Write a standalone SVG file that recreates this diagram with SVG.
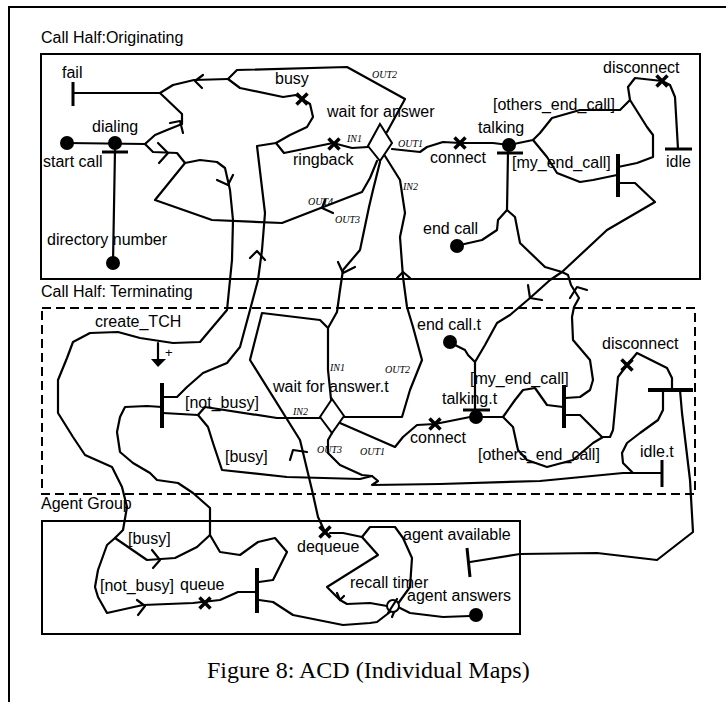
<svg xmlns="http://www.w3.org/2000/svg" xmlns:xlink="http://www.w3.org/1999/xlink" width="726" height="702" viewBox="0 0 726 702">
<style>
.p{fill:none;stroke:#000;stroke-width:2.2;stroke-linejoin:round;stroke-linecap:round}
.bar{stroke:#000;stroke-width:4;fill:none}
.eb{stroke:#000;stroke-width:3;fill:none}
.x{stroke:#000;stroke-width:3.5;fill:none}
.dot{fill:#000}
.box{fill:none;stroke:#000;stroke-width:2}
.dash{fill:none;stroke:#000;stroke-width:2;stroke-dasharray:9,5}
.t{font-family:"Liberation Sans",Arial,sans-serif;font-size:16px;fill:#000}
.s{font-family:"Liberation Serif","Times New Roman",serif;font-style:italic;font-size:10px;fill:#000}
.cap{font-family:"Liberation Serif","Times New Roman",serif;font-size:24px;fill:#000}
</style>
<defs>
<path id="xm" d="M-5.5,-5.5 L5.5,5.5 M5.5,-5.5 L-5.5,5.5"/>
</defs>
<rect width="726" height="702" fill="#fff"/>
<path class="box" d="M9,702 L9,7 L726,7"/>

<g id="components">
<rect class="box" x="41" y="54" width="659" height="225"/>
<rect class="dash" x="42" y="308" width="653" height="186"/>
<rect class="box" x="42" y="521" width="478" height="113"/>
<text class="t" x="41" y="43">Call Half:Originating</text>
<text class="t" x="41" y="297">Call Half: Terminating</text>
<text class="t" x="41" y="509">Agent Group</text>
</g>

<g id="connectors">
<!-- originating -->
<path class="p" d="M67,143 L145,144"/>
<path class="p" d="M115,150 L113,263"/>
<path class="p" d="M145,144 L155,135 L167,130 L182,124 L182,114 L160,93 L73,93"/>
<path class="p" d="M160,93 L173,85 L194,80 L228,79"/>
<path class="p" d="M228,79 L237,70 L347,67 L405,99 L387,132"/>
<path class="p" d="M228,79 L240,88 L283,97 L296,95 L302,99 L310,104 L313,117 L307,127 L290,135 L276,143"/>
<path class="p" d="M276,143 L284,153 L333,143 L352,148 L368,147"/>
<path class="p" d="M276,143 L257,146 L265,213 L262,250 L258,280 L250,310 L240,347 L227,363 L203,373 L187,387 L177,397 L163,397"/>
<path class="p" d="M145,144 L153,152 L177,153 L185,163 L200,160 L217,162 L225,168 L230,190 L233,220 L232,260 L230,280 L227,310 L200,342 L173,343 L140,338 L118,332 L90,333 L73,342 L67,358 L58,380 L58,413 L73,437 L85,455 L112,467 L122,487 L127,507 L123,530 L115,538 L107,545 L98,570 L95,587 L98,597 L107,613 L143,605 L193,603 L220,600 L238,592 L255,592"/>
<path class="p" d="M377,161 L370,178 L362,192 L282,223 L212,220 L155,200 L185,163"/>
<path class="p" d="M380,162 L373,190 L369,207 L360,250 L343,270 L340,290 L337,312 L328,328 L328,370 L331,399"/>
<path class="p" d="M385,156 L400,180 L405,213 L400,237 L403,277 L407,307 L413,327 L422,360 L410,390 L402,417 L343,417"/>
<path class="p" d="M392,149 L420,152 L427,147 L443,142 L460,143 L493,143 L509,145"/>
<path class="p" d="M509,145 L533,140 L540,133 L552,118 L580,110 L620,110 L630,100 L628,87 L635,78 L662,81 L670,85 L675,97 L678,149"/>
<path class="p" d="M630,100 L647,127 L653,135 L653,157 L637,163 L618,167"/>
<path class="p" d="M533,140 L547,157 L557,173 L580,182 L593,180 L617,175"/>
<path class="p" d="M618,183 L635,183 L655,202 L607,230 L562,272 L550,280 L530,298 L510,315 L497,323 L485,345 L475,362"/>
<path class="p" d="M508,152 L507,210 L498,220 L497,230 L482,240 L460,245"/>
<path class="p" d="M507,210 L515,217 L520,243 L545,267 L562,272 L568,275 L571,285 L579,298 L574,307 L572,317 L573,340 L590,360 L593,380 L590,390 L580,397 L565,398"/>
<!-- terminating -->
<path class="p" d="M455,345 L465,350 L468,355 L475,362 L475,410"/>
<path class="p" d="M340,423 L395,447 L403,437 L417,425 L435,424 L470,417"/>
<path class="p" d="M483,417 L503,417 L515,400 L523,390 L535,388 L547,405 L563,407"/>
<path class="p" d="M503,417 L513,427 L518,450 L527,460 L547,467 L573,460 L593,443 L603,437 L610,437 L613,430 L618,377 L627,365 L637,353 L667,368 L672,378 L672,390"/>
<path class="p" d="M565,415 L580,415 L602,437"/>
<path class="p" d="M663,390 L663,410 L658,420 L640,433 L627,443 L622,453 L623,463 L633,473 L662,473"/>
<path class="p" d="M680,390 L682,413 L690,480 L693,532 L657,560 L597,553 L520,554 L470,562"/>
<path class="p" d="M162,407 L147,406 L125,407 L120,417 L117,432 L120,452 L133,463 L150,473 L157,480 L178,483 L193,493 L210,508 L210,535"/>
<path class="p" d="M163,413 L198,415 L205,407 L277,418 L320,418"/>
<path class="p" d="M198,415 L208,427 L213,443 L222,470 L287,477 L360,479 L372,476 L378,481 L372,485 L440,484 L540,481 L623,473 L633,473"/>
<path class="p" d="M332,433 L328,440 L328,453 L340,465 L362,475 L372,476"/>
<path class="p" d="M325,532 L318,517 L312,490 L300,440 L250,360 L262,313 L320,320 L328,328"/>
<path class="p" d="M158,343 L158,360"/>
<!-- agent -->
<path class="p" d="M210,535 L197,547 L175,558 L147,560 L115,538"/>
<path class="p" d="M210,535 L220,552 L240,555 L258,542 L275,538 L287,552 L273,580 L259,582"/>
<path class="p" d="M259,600 L273,602 L293,615 L343,625 L370,623 L377,622 L390,612"/>
<path class="p" d="M330,533 L343,533 L362,537 L378,555 L327,587 L340,600 L347,604 L370,603 L387,606"/>
<path class="p" d="M362,537 L370,527 L395,527 L403,538 L412,558 L410,587 L397,605 L392,617"/>
<path class="p" d="M400,608 L410,613 L443,617 L470,616"/>
<!-- arrowheads -->
<path class="p" d="M203,75 L195,81 L202,88"/>
<path class="p" d="M170,123 L180,121 L183,133"/>
<path class="p" d="M158,143 L168,153 L159,163"/>
<path class="p" d="M217,180 L228,185 L233,175"/>
<path class="p" d="M250,258 L257,251 L265,260"/>
<path class="p" d="M325,200 L322,208 L333,213"/>
<path class="p" d="M338,262 L343,273 L355,267"/>
<path class="p" d="M397,278 L403,272 L410,278"/>
<path class="p" d="M528,285 L530,298 L542,300"/>
<path class="p" d="M570,298 L577,287 L587,290"/>
<path class="p" d="M290,460 L293,450 L307,452"/>
<path class="p" d="M152,550 L160,560 L153,568"/>
<path class="p" d="M137,600 L145,606 L138,615"/>
<path class="p" d="M337,593 L340,600 L344,596"/>
</g>

<g id="start-call"><circle class="dot" cx="67" cy="143" r="7"/><text class="t" x="43" y="167">start call</text></g>
<g id="dialing"><circle class="dot" cx="115" cy="143" r="7"/><path class="eb" d="M102,152 L128,152"/><text class="t" x="92" y="132">dialing</text></g>
<g id="directory-number"><circle class="dot" cx="113" cy="263" r="7"/><text class="t" x="47" y="245">directory number</text></g>
<g id="fail"><path class="eb" d="M73,82 L73,106"/><text class="t" x="62" y="78">fail</text></g>
<g id="busy"><use xlink:href="#xm" href="#xm" class="x" x="302" y="99"/><text class="t" x="275" y="84">busy</text></g>
<g id="ringback"><use xlink:href="#xm" href="#xm" class="x" x="334" y="144"/><text class="t" x="293" y="165">ringback</text></g>
<g id="wait-for-answer">
<path fill="#fff" stroke="#000" stroke-width="2" d="M380,124 L392,143 L380,161 L368,146 Z"/>
<text class="t" x="327" y="117">wait for answer</text>
<text class="s" x="347" y="142">IN1</text>
<text class="s" x="398" y="147">OUT1</text>
<text class="s" x="372" y="78">OUT2</text>
<text class="s" x="403" y="190">IN2</text>
<text class="s" x="308" y="205">OUT4</text>
<text class="s" x="335" y="223">OUT3</text>
</g>
<g id="connect"><use xlink:href="#xm" href="#xm" class="x" x="460" y="143"/><text class="t" x="430" y="163">connect</text></g>
<g id="talking"><circle class="dot" cx="509" cy="145" r="7"/><path class="eb" d="M497,153 L523,153"/><text class="t" x="478" y="133">talking</text></g>
<g id="others-end-call"><text class="t" x="493" y="110">[others_end_call]</text></g>
<g id="my-end-call"><path class="bar" d="M618,154 L618,197"/><text class="t" x="512" y="168">[my_end_call]</text></g>
<g id="disconnect"><use xlink:href="#xm" href="#xm" class="x" x="662" y="81"/><text class="t" x="603" y="73">disconnect</text></g>
<g id="idle"><path class="eb" d="M665,149 L692,149"/><text class="t" x="666" y="167">idle</text></g>
<g id="end-call"><circle class="dot" cx="457" cy="246" r="7"/><text class="t" x="423" y="234">end call</text></g>

<g id="create-tch"><path class="dot" d="M151,359 L166,359 L158,367 Z"/><text class="t" x="95" y="327">create_TCH</text><text class="t" x="165" y="357" style="font-size:13px">+</text></g>
<g id="not-busy-fork"><path class="bar" d="M162,383 L162,428"/><text class="t" x="185" y="408">[not_busy]</text><text class="t" x="225" y="462">[busy]</text></g>
<g id="wait-for-answer-t">
<path fill="#fff" stroke="#000" stroke-width="2" d="M332,399 L344,416 L332,433 L320,417 Z"/>
<text class="t" x="273" y="392">wait for answer.t</text>
<text class="s" x="330" y="371">IN1</text>
<text class="s" x="385" y="373">OUT2</text>
<text class="s" x="293" y="415">IN2</text>
<text class="s" x="317" y="453">OUT3</text>
<text class="s" x="360" y="455">OUT1</text>
</g>
<g id="end-call-t"><circle class="dot" cx="450" cy="342" r="7"/><text class="t" x="417" y="330">end call.t</text></g>
<g id="talking-t"><circle class="dot" cx="476" cy="417" r="7"/><path class="eb" d="M463,410 L490,410"/><text class="t" x="442" y="404">talking.t</text></g>
<g id="connect-t"><use xlink:href="#xm" href="#xm" class="x" x="435" y="424"/><text class="t" x="410" y="443">connect</text></g>
<g id="my-end-call-t"><path class="bar" d="M564,385 L564,428"/><text class="t" x="470" y="384">[my_end_call]</text></g>
<g id="others-end-call-t"><text class="t" x="478" y="460">[others_end_call]</text></g>
<g id="disconnect-t"><use xlink:href="#xm" href="#xm" class="x" x="627" y="365"/><text class="t" x="602" y="349">disconnect</text></g>
<g id="and-bar"><path class="bar" d="M648,390 L693,390"/></g>
<g id="idle-t"><path class="eb" d="M662,460 L662,487"/><text class="t" x="640" y="457">idle.t</text></g>

<g id="agent-busy"><text class="t" x="128" y="544">[busy]</text></g>
<g id="agent-not-busy"><text class="t" x="100" y="591">[not_busy]</text></g>
<g id="queue"><use xlink:href="#xm" href="#xm" class="x" x="205" y="603"/><text class="t" x="180" y="590">queue</text></g>
<g id="agent-join"><path class="bar" d="M257,568 L257,613"/></g>
<g id="dequeue"><use xlink:href="#xm" href="#xm" class="x" x="325" y="532"/><text class="t" x="297" y="552">dequeue</text></g>
<g id="recall-timer"><circle cx="393" cy="606" r="6" fill="#fff" stroke="#000" stroke-width="2"/><path class="p" d="M397,599 L388,613"/><text class="t" x="350" y="588">recall timer</text></g>
<g id="agent-answers"><circle class="dot" cx="476" cy="615" r="7"/><text class="t" x="407" y="601">agent answers</text></g>
<g id="agent-available"><path class="eb" d="M467,548 L470,577"/><text class="t" x="403" y="540">agent available</text></g>

<text class="cap" x="207" y="678">Figure 8: ACD (Individual Maps)</text>
</svg>
